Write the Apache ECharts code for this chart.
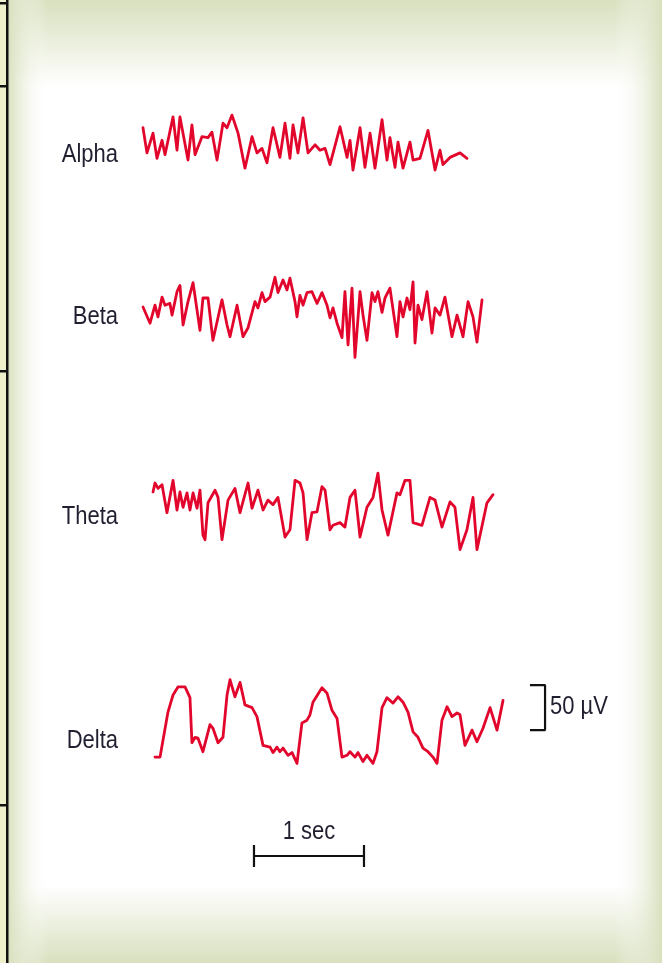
<!DOCTYPE html>
<html>
<head>
<meta charset="utf-8">
<title>EEG waves</title>
<script src="https://cdn.jsdelivr.net/npm/echarts@6/dist/echarts.min.js"></script>
<style>
  html, body { margin: 0; padding: 0; background: #fff; }
  #chart { width: 662px; height: 963px; }
</style>
</head>
<body>
<div id="chart"></div>
<script>
// 数据：[时间 ms, 电压 µV]
let waveNames = ['Alpha', 'Beta', 'Theta', 'Delta']

let alphaTrace = [
  [0, 17], [36, -11], [91, 11], [127, -17], [173, 3], [200, -13], [273, 29], [309, -8], [336, 29],
  [409, -19], [445, 20], [473, -13], [536, 7], [591, 6], [627, 12], [673, -19], [727, 22], [764, 17],
  [809, 31], [864, 11], [927, -28], [991, 7], [1036, -11], [1082, -6], [1127, -22], [1182, 17],
  [1245, -16], [1291, 22], [1336, -17], [1364, 20], [1409, -11], [1455, 28], [1500, -11], [1564, -2],
  [1609, -8], [1655, -6], [1700, -24], [1791, 18], [1855, -16], [1882, 3], [1909, -30], [1973, 17],
  [2018, -27], [2064, 11], [2109, -28], [2173, 26], [2218, -19], [2245, 6], [2291, -27], [2318, 1],
  [2364, -28], [2427, 1], [2455, -19], [2518, -17], [2591, 14], [2655, -30], [2700, -8], [2727, -24],
  [2791, -16], [2882, -11], [2945, -17]
]

let betaTrace = [
  [0, 10], [64, -8], [109, 12], [136, -1], [173, 21], [200, 12], [245, 14], [264, 1], [309, 27],
  [336, 34], [364, -10], [409, 16], [455, 37], [518, -16], [545, 20], [591, 20], [636, -27], [718, 18],
  [764, -10], [791, -23], [855, 12], [909, -23], [955, -13], [1018, 16], [1045, 9], [1082, 26],
  [1109, 16], [1155, 21], [1200, 43], [1227, 26], [1273, 40], [1309, 29], [1336, 42], [1382, 16],
  [1400, -1], [1427, 23], [1455, 12], [1491, 26], [1536, 27], [1582, 14], [1627, 26], [1673, 12],
  [1700, -2], [1727, 9], [1764, -8], [1809, -24], [1836, 27], [1864, -32], [1900, 31], [1927, -46],
  [1973, 27], [2000, 1], [2036, -27], [2082, 26], [2109, 16], [2136, 27], [2173, 4], [2200, 20],
  [2245, 31], [2309, -23], [2336, 16], [2364, -1], [2400, 20], [2427, 7], [2455, 38], [2473, -30],
  [2500, 12], [2536, -4], [2582, 27], [2627, -19], [2655, 9], [2700, 1], [2745, 21], [2809, -23],
  [2855, 1], [2909, -23], [2955, 16], [3000, -1], [3036, -29], [3082, 18]
]

let thetaTrace = [
  [91, 20], [109, 30], [136, 24], [173, 28], [218, -3], [273, 33], [309, 0], [336, 20], [364, 3],
  [400, 19], [427, 0], [455, 19], [491, 2], [518, 22], [545, -28], [564, -33], [591, 8], [655, 22],
  [682, 14], [718, -33], [773, 11], [836, 24], [882, -3], [955, 30], [991, 2], [1045, 22], [1091, 0],
  [1136, 11], [1182, 6], [1227, 14], [1291, -30], [1336, -22], [1382, 33], [1427, 30], [1455, 19],
  [1491, -33], [1536, -3], [1582, -2], [1627, 26], [1655, 22], [1700, -22], [1727, -17], [1791, -14],
  [1836, -19], [1882, 14], [1927, 22], [1973, -30], [2036, 3], [2091, 14], [2136, 41], [2173, 0],
  [2227, -28], [2309, 19], [2336, 17], [2382, 33], [2427, 33], [2455, -14], [2536, -17], [2609, 14],
  [2655, 11], [2718, -19], [2791, 9], [2836, 3], [2882, -44], [2945, -22], [3000, 14], [3036, -44],
  [3127, 8], [3182, 17]
]

let deltaTrace = [
  [109, -39], [155, -39], [227, 11], [273, 30], [318, 39], [382, 39], [427, 27], [445, -23],
  [473, -17], [500, -18], [545, -33], [609, -3], [636, -7], [682, -23], [727, -17], [764, 30],
  [791, 47], [836, 28], [882, 44], [927, 19], [991, 16], [1036, 6], [1091, -26], [1155, -28],
  [1182, -34], [1218, -28], [1245, -33], [1273, -29], [1318, -37], [1355, -34], [1400, -46],
  [1445, -1], [1491, 2], [1518, 8], [1545, 22], [1627, 38], [1673, 32], [1718, 13], [1764, 4],
  [1809, -39], [1855, -37], [1882, -33], [1927, -39], [1955, -34], [2000, -44], [2036, -37],
  [2091, -46], [2127, -33], [2173, 16], [2218, 27], [2273, 21], [2318, 28], [2364, 22], [2409, 11],
  [2455, -11], [2500, -17], [2545, -29], [2591, -33], [2636, -39], [2673, -46], [2718, 2], [2764, 17],
  [2809, 6], [2855, 10], [2882, 8], [2927, -26], [2991, -9], [3036, -22], [3091, -7], [3155, 16],
  [3218, -9], [3273, 24]
]

// 标尺：50 µV 竖括号 和 1 sec 横条
let uvBar = [[3518, 41], [3655, 41], [3655, -9], [3518, -9]]
let uvLabel = '50 µV'
let secBar = [[1009, 1], [1009, -1], [1009, 0], [2009, 0], [2009, 1], [2009, -1]]
let secLabel = '1 sec'

let traces = [alphaTrace, betaTrace, thetaTrace, deltaTrace]
let traceTops = [89, 262, 456, 668]   // 每条波形的 grid 顶部
let labelY = [155, 317, 517, 741]

let red = '#e2062c'
let frameColor = '#d8e0be'
let textColor = '#1f1f30'
let labelFont = '25px "Liberation Sans", Arial, sans-serif'
let narrow = 0.88   // 原图是窄体字，横向压缩一下

let chart = echarts.init(document.getElementById('chart'))

let grids = []
let xAxes = []
let yAxes = []
let series = []

traces.forEach((t, i) => {
  grids.push({ left: 143, right: 57, top: traceTops[i], height: 108 })
  xAxes.push({ type: 'value', gridIndex: i, min: 0, max: 4200, show: false })
  yAxes.push({ type: 'value', gridIndex: i, min: -60, max: 60, show: false })
  series.push({
    name: waveNames[i],
    type: 'line',
    xAxisIndex: i,
    yAxisIndex: i,
    data: t,
    symbol: 'none',
    clip: false,
    lineStyle: { color: red, width: 2.8, join: 'round', cap: 'round' },
    silent: true
  })
})

// 50 µV 括号画在 Delta 的坐标系里
series.push({
  type: 'line',
  xAxisIndex: 3,
  yAxisIndex: 3,
  data: uvBar,
  symbol: 'none',
  clip: false,
  lineStyle: { color: '#111', width: 2.2 },
  silent: true
})

// 1 sec 时间标尺
grids.push({ left: 143, right: 57, top: 845, height: 22 })
xAxes.push({ type: 'value', gridIndex: 4, min: 0, max: 4200, show: false })
yAxes.push({ type: 'value', gridIndex: 4, min: -1, max: 1, show: false })
series.push({
  type: 'line',
  xAxisIndex: 4,
  yAxisIndex: 4,
  data: secBar,
  symbol: 'none',
  clip: false,
  lineStyle: { color: '#111', width: 2.2 },
  silent: true
})

let graphics = [
  // 背景：上下淡绿渐变
  {
    type: 'rect', z: -10, silent: true,
    shape: { x: 0, y: 0, width: 662, height: 963 },
    style: {
      fill: new echarts.graphic.LinearGradient(0, 0, 0, 1, [
        { offset: 0, color: frameColor },
        { offset: 0.09, color: '#ffffff' },
        { offset: 0.92, color: '#ffffff' },
        { offset: 1, color: frameColor }
      ])
    }
  },
  // 左右两边的渐变
  {
    type: 'rect', z: -9, silent: true,
    shape: { x: 8, y: 0, width: 40, height: 963 },
    style: {
      fill: new echarts.graphic.LinearGradient(0, 0, 1, 0, [
        { offset: 0, color: 'rgba(216,224,190,1)' },
        { offset: 1, color: 'rgba(255,255,255,0)' }
      ])
    }
  },
  {
    type: 'rect', z: -9, silent: true,
    shape: { x: 614, y: 0, width: 48, height: 963 },
    style: {
      fill: new echarts.graphic.LinearGradient(0, 0, 1, 0, [
        { offset: 0, color: 'rgba(255,255,255,0)' },
        { offset: 1, color: 'rgba(216,224,190,1)' }
      ])
    }
  },
  // 左侧窄条和黑线
  {
    type: 'rect', z: -8, silent: true,
    shape: { x: 0, y: 0, width: 7, height: 963 },
    style: { fill: '#eeefcb' }
  },
  {
    type: 'rect', z: -7, silent: true,
    shape: { x: 6, y: 0, width: 2.5, height: 963 },
    style: { fill: '#111' }
  }
]

;[3, 86, 371, 805].forEach(y => {
  graphics.push({
    type: 'rect', z: -7, silent: true,
    shape: { x: 0, y: y - 1, width: 8, height: 2.5 },
    style: { fill: '#111' }
  })
})

waveNames.forEach((n, i) => {
  graphics.push({
    type: 'text', silent: true,
    x: 118, y: labelY[i], scaleX: narrow,
    style: { text: n, fill: textColor, font: labelFont, align: 'right', verticalAlign: 'middle' }
  })
})

graphics.push({
  type: 'text', silent: true,
  x: 309, y: 832, scaleX: narrow,
  style: { text: secLabel, fill: textColor, font: labelFont, align: 'center', verticalAlign: 'middle' }
})
graphics.push({
  type: 'text', silent: true,
  x: 550, y: 707, scaleX: narrow,
  style: { text: uvLabel, fill: textColor, font: labelFont, align: 'left', verticalAlign: 'middle' }
})

chart.setOption({
  animation: false,
  grid: grids,
  xAxis: xAxes,
  yAxis: yAxes,
  series: series,
  graphic: graphics
})
</script>
</body>
</html>
